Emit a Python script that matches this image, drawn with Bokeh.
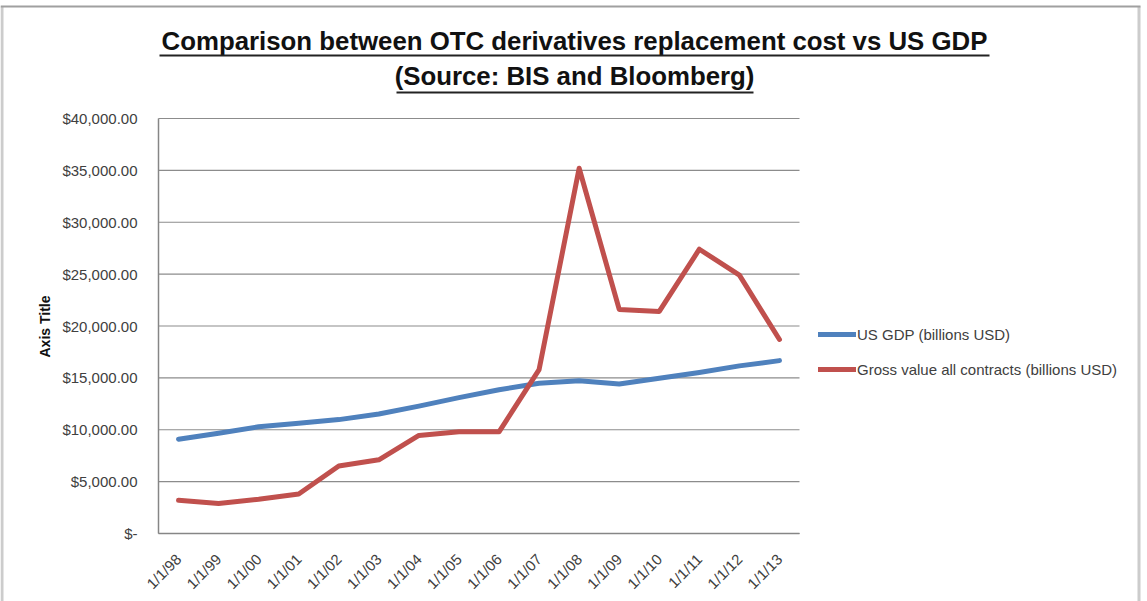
from math import pi
from bokeh.plotting import figure
from bokeh.models import Range1d, FixedTicker, Legend, LegendItem
from bokeh.core.properties import value
from bokeh.embed import file_html
from bokeh.resources import INLINE

# ---------------- data ----------------
dates = ["1/1/98", "1/1/99", "1/1/00", "1/1/01", "1/1/02", "1/1/03", "1/1/04", "1/1/05",
         "1/1/06", "1/1/07", "1/1/08", "1/1/09", "1/1/10", "1/1/11", "1/1/12", "1/1/13"]
us_gdp = [9089, 9661, 10285, 10622, 10978, 11511, 12275, 13094,
          13856, 14478, 14719, 14419, 14964, 15518, 16155, 16663]
gross_value = [3200, 2900, 3300, 3800, 6500, 7100, 9450, 9800,
               9800, 15800, 35200, 21600, 21400, 27400, 24900, 18700]
y_ticks = [0, 5000, 10000, 15000, 20000, 25000, 30000, 35000, 40000]
y_tick_labels = ["$-", "$5,000.00", "$10,000.00", "$15,000.00", "$20,000.00",
                 "$25,000.00", "$30,000.00", "$35,000.00", "$40,000.00"]
series_names = ["US GDP (billions USD)", "Gross value all contracts (billions USD)"]
title_lines = ["Comparison between OTC derivatives replacement cost vs US GDP",
               "(Source: BIS and Bloomberg)"]
y_axis_title = "Axis Title"

# ---------------- layout (pixel geometry) ----------------
W, H = 1147, 601
PX_L, PX_R = 158, 799          # plot area left / right edge (px)
PY_0, PY_TOP = 533, 118        # y = 0 and y = top tick (px)
n = len(dates)
y_lo, y_hi = y_ticks[0], y_ticks[-1]
ux = (PX_R - PX_L) / n
uy = (PY_0 - PY_TOP) / (y_hi - y_lo)
x_lo, x_hi = -0.5, n - 0.5

def X(px):
    return x_lo + (px - PX_L) / ux

def Y(py):
    return y_lo + (PY_0 - py) / uy

FONT = "Liberation Sans"
AX_COL = "#868686"
GRID_COL = "#8c8c8c"
TXT_COL = "#404040"

p = figure(width=W, height=H, x_range=Range1d(X(0), X(W)), y_range=Range1d(Y(H), Y(0)),
           output_backend="svg", toolbar_location=None, min_border=0)
p.outline_line_color = None
p.xgrid.grid_line_color = None
p.ygrid.grid_line_color = None

# horizontal gridlines over the plot area only
p.segment(x0=[x_lo] * len(y_ticks), y0=y_ticks, x1=[x_hi] * len(y_ticks), y1=y_ticks,
          line_color=GRID_COL, line_width=1.2)

xs = list(range(n))
r1 = p.line(xs, us_gdp, line_width=5, line_color="#4F81BD", line_join="round", line_cap="round")
r2 = p.line(xs, gross_value, line_width=5, line_color="#C0504D", line_join="round", line_cap="round")

# axes (pinned to the plot-area edges)
p.xaxis.ticker = FixedTicker(ticks=xs)
p.xaxis.major_label_overrides = {i: d for i, d in zip(xs, dates)}
p.xaxis.major_label_orientation = pi / 4
p.xaxis.fixed_location = y_lo
p.xaxis.bounds = (x_lo, x_hi)
p.xaxis.major_label_standoff = 17
p.yaxis.ticker = FixedTicker(ticks=y_ticks)
p.yaxis.major_label_overrides = {tk: lb for tk, lb in zip(y_ticks, y_tick_labels)}
p.yaxis.fixed_location = x_lo
p.yaxis.bounds = (y_lo, y_hi)
p.yaxis.major_label_standoff = 15
for ax in (p.xaxis, p.yaxis):
    ax.axis_line_color = AX_COL
    ax.axis_line_width = 1.5
    ax.major_tick_line_color = None
    ax.minor_tick_line_color = None
    ax.major_label_text_font = FONT
    ax.major_label_text_font_size = "15px"
    ax.major_label_text_color = TXT_COL

# y axis title
p.text(x=[X(44)], y=[Y(326)], text=[y_axis_title], angle=pi / 2, text_align="center",
       text_baseline="middle", text_font=value(FONT), text_font_style="bold",
       text_font_size="14px", text_color="#111111")

# chart title with underlines
p.text(x=[X(574)] * 2, y=[Y(40), Y(75)], text=title_lines, text_align="center",
       text_baseline="alphabetic", text_font=value(FONT), text_font_style="bold",
       text_font_size="25.8px", text_color="#111111")
p.segment(x0=[X(159), X(396)], y0=[Y(55), Y(92)], x1=[X(989), X(753)], y1=[Y(55), Y(92)],
          line_width=2, line_color="#222222")

# chart border
p.segment(x0=[X(1.5), X(1138.5)], y0=[Y(6), Y(6)], x1=[X(1.5), X(1138.5)], y1=[Y(H), Y(H)],
          line_width=3, line_color="#cccccc")
p.segment(x0=[X(0)], y0=[Y(6)], x1=[X(1140)], y1=[Y(6)], line_width=2, line_color="#a0a0a0")

# legend
legend = Legend(items=[LegendItem(label=series_names[0], renderers=[r1]),
                       LegendItem(label=series_names[1], renderers=[r2])],
                location=(818, H - 379), orientation="vertical",
                glyph_width=38, glyph_height=20, label_height=20, label_standoff=1,
                spacing=15, padding=0, margin=0, border_line_color=None,
                background_fill_alpha=0, label_text_font=FONT,
                label_text_font_size="15px", label_text_color=TXT_COL)
p.add_layout(legend)

open("out.html", "w").write(file_html(p, INLINE))
